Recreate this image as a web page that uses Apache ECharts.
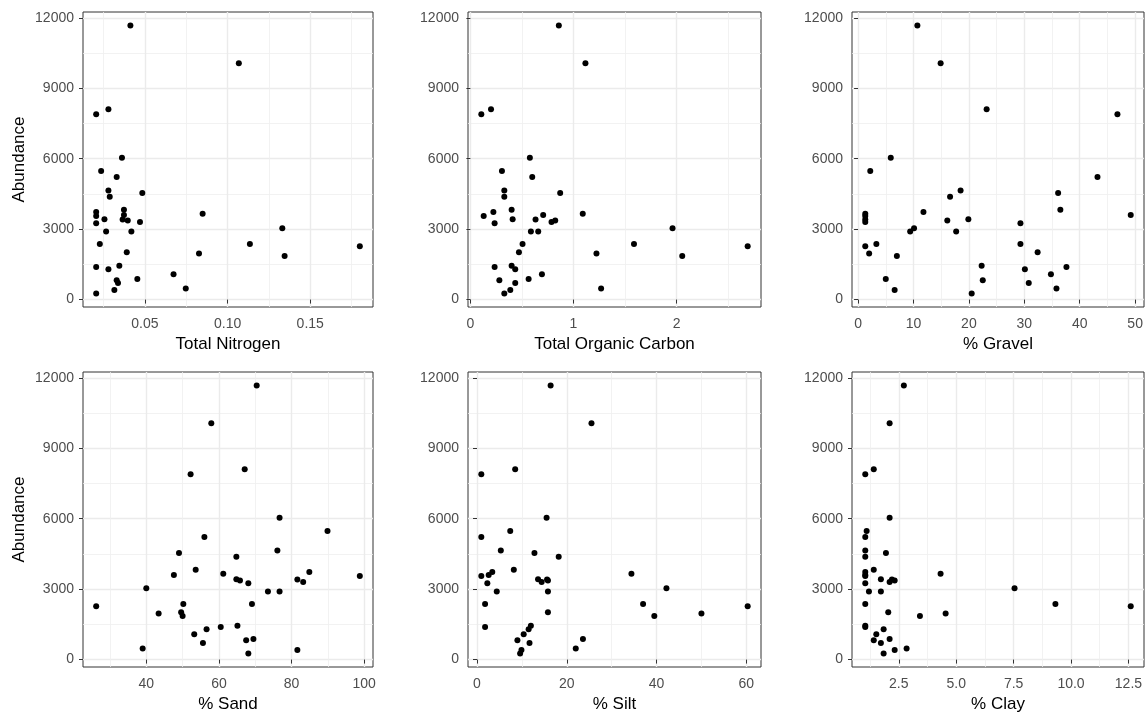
<!DOCTYPE html>
<html>
<head>
<meta charset="utf-8">
<script src="https://cdn.jsdelivr.net/npm/echarts@6/dist/echarts.min.js"></script>
<style>
  html, body { margin: 0; padding: 0; background: #ffffff; }
  #chart { width: 1146px; height: 715px; }
</style>
</head>
<body>
<div id="chart"></div>
<script>
// ---- Data (one entry per sample, same order in every array) ----
const abundance = [11680, 10070, 8110, 7900, 6040, 5475, 5220, 4650, 4540, 4380, 3830, 3730, 3660, 3600, 3560, 3420, 3410, 3370, 3310, 3250, 3035, 2895, 2895, 2370, 2370, 2270, 2015, 1960, 1860, 1445, 1390, 1290, 1080, 880, 820, 710, 470, 410, 255];
const totalNitrogen = [0.0412, 0.1068, 0.0279, 0.0205, 0.0361, 0.0235, 0.0329, 0.0279, 0.0484, 0.0287, 0.0373, 0.0205, 0.0849, 0.0373, 0.0205, 0.0255, 0.0365, 0.0396, 0.0470, 0.0205, 0.1331, 0.0265, 0.0418, 0.1135, 0.0227, 0.1800, 0.0390, 0.0827, 0.1345, 0.0345, 0.0205, 0.0279, 0.0673, 0.0454, 0.0329, 0.0337, 0.0747, 0.0315, 0.0205];
const totalOrganicCarbon = [0.858, 1.116, 0.200, 0.106, 0.577, 0.306, 0.600, 0.329, 0.871, 0.329, 0.400, 0.223, 1.090, 0.706, 0.129, 0.410, 0.632, 0.823, 0.787, 0.235, 1.961, 0.587, 0.658, 1.587, 0.506, 2.690, 0.471, 1.223, 2.055, 0.400, 0.235, 0.435, 0.694, 0.565, 0.281, 0.435, 1.268, 0.387, 0.329];
const gravel = [10.7, 14.9, 23.2, 46.8, 5.9, 2.2, 43.2, 18.5, 36.1, 16.6, 36.5, 11.8, 1.3, 49.2, 1.3, 19.9, 1.3, 16.1, 1.3, 29.3, 10.1, 17.7, 9.4, 3.3, 29.3, 1.3, 32.4, 2.0, 7.0, 22.3, 37.6, 30.1, 34.8, 5.0, 22.5, 30.8, 35.8, 6.6, 20.5];
const sand = [70.4, 57.9, 67.1, 52.2, 76.7, 89.9, 56.0, 76.1, 49.0, 64.8, 53.6, 84.9, 61.2, 47.6, 98.8, 64.8, 81.6, 65.8, 83.2, 68.1, 40.0, 76.7, 73.5, 50.2, 69.1, 26.2, 49.6, 43.4, 50.0, 65.1, 60.5, 56.6, 53.2, 69.5, 67.5, 55.6, 39.0, 81.6, 68.1];
const silt = [16.4, 25.5, 8.5, 0.96, 15.5, 7.4, 0.96, 5.3, 12.8, 18.2, 8.2, 3.4, 34.4, 2.6, 0.96, 13.6, 15.6, 15.8, 14.4, 2.3, 42.2, 4.4, 15.8, 37.0, 1.8, 60.3, 15.8, 50.0, 39.5, 12.0, 1.8, 11.5, 10.4, 23.6, 9.0, 11.7, 22.0, 9.9, 9.6];
const clay = [2.72, 2.10, 1.41, 1.04, 2.10, 1.10, 1.04, 1.04, 1.94, 1.04, 1.41, 1.04, 4.32, 1.04, 1.04, 1.72, 2.20, 2.32, 2.10, 1.04, 7.54, 1.20, 1.72, 9.32, 1.04, 12.60, 2.04, 4.54, 3.42, 1.04, 1.04, 1.84, 1.52, 2.10, 1.41, 1.72, 2.84, 2.32, 1.84];

// ---- Tick labels ----
const yTicks = [0, 3000, 6000, 9000, 12000];
const yMinorTicks = [1500, 4500, 7500, 10500];
const panelNames = ['Total Nitrogen', 'Total Organic Carbon', '% Gravel', '% Sand', '% Silt', '% Clay'];
const panelX = [totalNitrogen, totalOrganicCarbon, gravel, sand, silt, clay];
const xTicks = [
  [0.05, 0.10, 0.15],
  [0, 1, 2],
  [0, 10, 20, 30, 40, 50],
  [40, 60, 80, 100],
  [0, 20, 40, 60],
  [2.5, 5.0, 7.5, 10.0, 12.5]
];
const xMinorTicks = [
  [0.025, 0.075, 0.125, 0.175],
  [0.5, 1.5, 2.5],
  [5, 15, 25, 35, 45],
  [30, 50, 70, 90],
  [10, 30, 50],
  [1.25, 3.75, 6.25, 8.75, 11.25]
];
const xDecimals = [2, 0, 0, 0, 0, 1];

// ---- Layout ----
const FONT = '"Liberation Sans", Arial, sans-serif';
const grids = [
  { left: 83, top: 12, width: 290, height: 295 },
  { left: 468, top: 12, width: 293, height: 295 },
  { left: 852, top: 12, width: 292, height: 295 },
  { left: 83, top: 372, width: 290, height: 295 },
  { left: 468, top: 372, width: 293, height: 295 },
  { left: 852, top: 372, width: 292, height: 295 }
];

function expanded(arr) {
  const lo = Math.min(...arr), hi = Math.max(...arr);
  const pad = (hi - lo) * 0.05;
  return [lo - pad, hi + pad];
}

const yExt = expanded(abundance);
const majorLine = { show: true, lineStyle: { color: '#EBEBEB', width: 1.4 } };
const minorLine = { show: true, lineStyle: { color: '#EFEFEF', width: 0.8 } };
const tickStyle = { lineStyle: { color: '#333333', width: 1 }, length: 4, inside: false };
const labelStyle = { color: '#4D4D4D', fontSize: 14, fontFamily: FONT };

const gridOpts = [], xAxes = [], yAxes = [], series = [];
grids.forEach((g, i) => {
  gridOpts.push(Object.assign({ show: true, borderColor: '#333333', borderWidth: 1, backgroundColor: '#ffffff', containLabel: false }, g));
  const xExt = expanded(panelX[i]);
  const dec = xDecimals[i];
  xAxes.push({
    type: 'value', gridIndex: i, position: 'bottom',
    min: xExt[0], max: xExt[1],
    axisLine: { show: false },
    axisTick: Object.assign({ show: true, customValues: xTicks[i] }, tickStyle),
    axisLabel: Object.assign({ show: true, margin: 10, customValues: xTicks[i],
      formatter: v => Number(v).toFixed(dec) }, labelStyle),
    splitLine: majorLine,
    name: panelNames[i], nameLocation: 'middle', nameGap: 29,
    nameTextStyle: { color: '#000000', fontSize: 17, fontFamily: FONT }
  });
  xAxes.push({
    type: 'value', gridIndex: i, position: 'top',
    min: xExt[0], max: xExt[1],
    axisLine: { show: false },
    axisTick: { show: false, customValues: xMinorTicks[i] },
    axisLabel: { show: false },
    splitLine: minorLine
  });
  yAxes.push({
    type: 'value', gridIndex: i, position: 'left',
    min: yExt[0], max: yExt[1],
    axisLine: { show: false },
    axisTick: Object.assign({ show: true, customValues: yTicks }, tickStyle),
    axisLabel: Object.assign({ show: true, margin: 9, customValues: yTicks,
      formatter: v => String(Math.round(v)) }, labelStyle),
    splitLine: majorLine,
    name: (i % 3 === 0) ? 'Abundance' : '',
    nameLocation: 'middle', nameGap: 55,
    nameTextStyle: { color: '#000000', fontSize: 17, fontFamily: FONT }
  });
  yAxes.push({
    type: 'value', gridIndex: i, position: 'right',
    min: yExt[0], max: yExt[1],
    axisLine: { show: false },
    axisTick: { show: false, customValues: yMinorTicks },
    axisLabel: { show: false },
    splitLine: minorLine
  });
  series.push({
    type: 'scatter',
    xAxisIndex: 2 * i, yAxisIndex: 2 * i,
    symbol: 'circle', symbolSize: 6,
    itemStyle: { color: '#000000', opacity: 1 },
    silent: true,
    data: panelX[i].map((x, k) => [x, abundance[k]]),
    z: 5
  });
});

const chart = echarts.init(document.getElementById('chart'), null, { renderer: 'canvas' });
chart.setOption({
  animation: false,
  backgroundColor: '#ffffff',
  grid: gridOpts,
  xAxis: xAxes,
  yAxis: yAxes,
  series: series
});
</script>
</body>
</html>
